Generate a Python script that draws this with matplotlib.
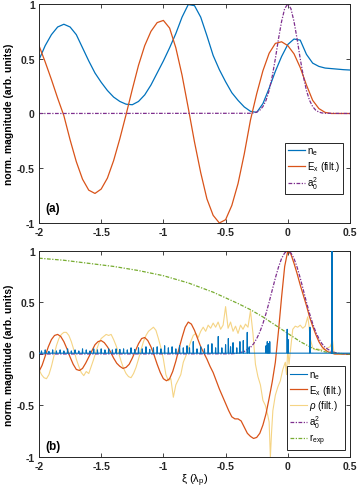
import numpy as np
import matplotlib
matplotlib.use("Agg")
import matplotlib.pyplot as plt

# MATLAB default colour order
BLUE = (0.0, 0.447, 0.741)
ORANGE = (0.85, 0.325, 0.098)
YELLOW = (0.929, 0.694, 0.125)
PURPLE = (0.494, 0.184, 0.556)
GREEN = (0.466, 0.674, 0.188)
AXIS_GREY = (0.15, 0.15, 0.15)
DASHDOT = (3, 1.2, 1, 1.2)

xi_ticks = [-2, -1.5, -1, -0.5, 0, 0.5]
xi_tick_labels = ['-2', '-1.5', '-1', '-0.5', '0', '0.5']
y_ticks = [-1, -0.5, 0, 0.5, 1]
y_tick_labels = ['-1', '-0.5', '0', '0.5', '1']

# ---- panel (a), sampled every 0.05 from xi = -2 to 0.5 ----
ne_a = [0.49, 0.62, 0.72, 0.79, 0.815, 0.79, 0.72, 0.60, 0.48, 0.37,
        0.285, 0.21, 0.15, 0.11, 0.085, 0.08, 0.11, 0.17, 0.26, 0.37,
        0.48, 0.60, 0.73, 0.88, 0.995, 0.985, 0.88, 0.71, 0.53, 0.40,
        0.29, 0.19, 0.12, 0.06, 0.02, 0.01, 0.09, 0.23, 0.385, 0.52,
        0.63, 0.68, 0.67, 0.54, 0.46, 0.43, 0.415, 0.41, 0.405, 0.40,
        0.397]
ex_a = [0.62, 0.47, 0.31, 0.14, -0.02, -0.24, -0.44, -0.60, -0.70, -0.73,
        -0.69, -0.59, -0.43, -0.23, -0.01, 0.22, 0.44, 0.62, 0.75, 0.83,
        0.85, 0.78, 0.60, 0.35, 0.05, -0.26, -0.54, -0.78, -0.93, -1.00,
        -0.97, -0.84, -0.64, -0.37, -0.06, 0.18, 0.39, 0.55, 0.64, 0.655,
        0.62, 0.545, 0.42, 0.26, 0.12, 0.045, 0.01, 0.0, 0.0, 0.0,
        0.0]
a0_a_xi = [-2.0, -0.3, -0.275, -0.25, -0.225, -0.2, -0.175, -0.15, -0.125,
           -0.1, -0.075, -0.05, -0.025, 0.0, 0.025, 0.05, 0.075, 0.1, 0.125,
           0.15, 0.175, 0.2, 0.225, 0.25, 0.275, 0.3, 0.5]
a0_a = [0.0, 0.002, 0.005, 0.013, 0.03, 0.063, 0.12, 0.21, 0.34,
        0.50, 0.68, 0.84, 0.958, 1.0, 0.958, 0.84, 0.68, 0.50, 0.34,
        0.21, 0.12, 0.063, 0.03, 0.013, 0.005, 0.002, 0.0]

# ---- panel (b) ----
# E_x (filt.) every 0.025 from -2 to 0.5
ex_b = [-0.17, -0.11, -0.02, 0.07, 0.14, 0.18, 0.19, 0.17, 0.12, 0.05,
        -0.03, -0.10, -0.15, -0.16, -0.14, -0.09, -0.03, 0.03, 0.09, 0.12,
        0.13, 0.11, 0.07, 0.02, -0.04, -0.09, -0.12, -0.14, -0.13, -0.10,
        -0.04, 0.03, 0.10, 0.15, 0.16, 0.13, 0.07, -0.01, -0.10, -0.18,
        -0.24, -0.26, -0.24, -0.17, -0.07, 0.05, 0.16, 0.26, 0.31, 0.29,
        0.23, 0.15, 0.07, 0.01, -0.05, -0.12, -0.18, -0.26, -0.34, -0.41,
        -0.48, -0.55, -0.61, -0.63, -0.63, -0.65, -0.71, -0.77, -0.80, -0.82,
        -0.81, -0.77, -0.69, -0.58, -0.43, -0.27, -0.08, 0.22, 0.55, 0.85,
        1.00, 0.97, 0.88, 0.78, 0.67, 0.57, 0.47, 0.36, 0.27, 0.19,
        0.12, 0.07, 0.04, 0.02, 0.01, 0.0, 0.0, 0.0, 0.0, 0.0,
        0.0]
rho_b_xi = [-2.00, -1.98, -1.96, -1.94, -1.92, -1.90, -1.88, -1.86, -1.84, -1.82,
            -1.80, -1.78, -1.76, -1.74, -1.72, -1.70, -1.68, -1.66, -1.64, -1.62,
            -1.60, -1.58, -1.56, -1.54, -1.52, -1.50, -1.48, -1.46, -1.44, -1.42,
            -1.40, -1.38, -1.36, -1.34, -1.32, -1.30, -1.28, -1.26, -1.24, -1.22,
            -1.20, -1.18, -1.16, -1.14, -1.12, -1.10, -1.08, -1.06, -1.04, -1.02,
            -1.00, -0.98, -0.96, -0.94, -0.92, -0.90, -0.88, -0.86, -0.84, -0.82,
            -0.80, -0.78, -0.76, -0.74, -0.72, -0.70, -0.68, -0.66, -0.64, -0.62,
            -0.60, -0.58, -0.56, -0.54, -0.52, -0.50, -0.48, -0.46, -0.44, -0.42,
            -0.40, -0.38, -0.36, -0.34, -0.32, -0.30, -0.28, -0.26, -0.24, -0.22,
            -0.20, -0.18, -0.16, -0.15, -0.14, -0.13, -0.12, -0.10, -0.08, -0.06,
            -0.04, -0.02, -0.01, 0.00, 0.01, 0.02, 0.04, 0.06, 0.08, 0.10,
            0.12, 0.14, 0.16, 0.17, 0.18, 0.20, 0.22, 0.24, 0.26, 0.28,
            0.30, 0.32, 0.34, 0.36, 0.37, 0.38, 0.50]
rho_b = [-0.15, -0.20, -0.23, -0.24, -0.20, -0.12, -0.02, 0.08, 0.15, 0.19,
         0.21, 0.21, 0.18, 0.12, 0.04, -0.05, -0.12, -0.18, -0.21, -0.17,
         -0.19, -0.12, -0.05, 0.03, 0.10, 0.15, 0.17, 0.19, 0.18, 0.19,
         0.14, 0.08, 0.01, -0.07, -0.14, -0.19, -0.22, -0.23, -0.19, -0.13,
         -0.05, 0.04, 0.12, 0.18, 0.22, 0.24, 0.26, 0.23, 0.15, 0.06,
         -0.05, -0.20, -0.26, -0.24, -0.42, -0.30, -0.25, -0.20, -0.08, -0.02,
         0.05, 0.12, 0.18, 0.20, 0.16, 0.22, 0.26, 0.22, 0.28, 0.25,
         0.30, 0.26, 0.31, 0.24, 0.28, 0.46, 0.25, 0.31, 0.22, 0.27,
         0.20, 0.28, 0.24, 0.29, 0.26, 0.42, 0.20, -0.10, -0.22, -0.30,
         -0.45, -0.50, -0.60, -0.66, -1.00, -0.75, -0.55, -0.40, -0.32, -0.26,
         -0.15, -0.08, -0.20, 0.05, -0.10, 0.02, 0.24, 0.27, 0.26, 0.28,
         0.25, 0.27, 0.36, 0.28, 0.15, 0.06, 0.04, 0.05, 0.04, 0.05,
         0.04, 0.06, 0.07, 0.13, 0.02, 0.0, 0.0]
a0_b_xi = [-2.0, -0.45, -0.4, -0.35, -0.3, -0.275, -0.25, -0.225, -0.2, -0.175,
           -0.15, -0.125, -0.1, -0.075, -0.05, -0.025, 0.0, 0.025, 0.05, 0.075,
           0.1, 0.125, 0.15, 0.175, 0.2, 0.225, 0.25, 0.275, 0.3, 0.35,
           0.4, 0.45, 0.5]
a0_b = [0.0, 0.002, 0.008, 0.024, 0.064, 0.099, 0.149, 0.213, 0.295, 0.393,
        0.503, 0.621, 0.737, 0.842, 0.927, 0.981, 1.0, 0.981, 0.927, 0.842,
        0.737, 0.621, 0.503, 0.393, 0.295, 0.213, 0.149, 0.099, 0.064, 0.024,
        0.008, 0.002, 0.0]
# r_exp every 0.1 from -2 to 0.5
rexp_b = [0.93, 0.92, 0.91, 0.895, 0.88, 0.865, 0.85, 0.83, 0.81, 0.785,
          0.76, 0.725, 0.69, 0.645, 0.60, 0.545, 0.49, 0.43, 0.36, 0.28,
          0.20, 0.12, 0.055, 0.02, 0.005, 0.0]
# n_e spikes: position and height
ne_spike_xi = [-1.98, -1.95, -1.92, -1.89, -1.86, -1.83, -1.80, -1.77, -1.74, -1.71,
               -1.68, -1.65, -1.62, -1.59, -1.56, -1.53, -1.50, -1.47, -1.44, -1.41,
               -1.38, -1.35, -1.32, -1.29, -1.26, -1.23, -1.20, -1.17, -1.14, -1.11,
               -1.08, -1.05, -1.02, -0.99, -0.96, -0.93, -0.90, -0.87, -0.84, -0.81,
               -0.79, -0.76, -0.73, -0.70, -0.67, -0.64, -0.61, -0.58, -0.559, -0.53,
               -0.50, -0.478, -0.46, -0.44, -0.41, -0.385, -0.358, -0.326, -0.31,
               -0.175, -0.165, -0.155, -0.145, -0.005, 0.003, 0.178, 0.355]
ne_spike_h = [0.03, 0.04, 0.025, 0.04, 0.03, 0.04, 0.03, 0.05, 0.03, 0.04,
              0.03, 0.05, 0.04, 0.03, 0.05, 0.04, 0.05, 0.04, 0.05, 0.04,
              0.05, 0.045, 0.05, 0.04, 0.06, 0.045, 0.06, 0.05, 0.07, 0.045,
              0.06, 0.07, 0.05, 0.08, 0.06, 0.07, 0.05, 0.08, 0.06, 0.08,
              0.06, 0.12, 0.05, 0.07, 0.05, 0.09, 0.10, 0.06, 0.17, 0.06,
              0.09, 0.15, 0.07, 0.11, 0.06, 0.12, 0.13, 0.21, 0.07,
              0.08, 0.12, 0.10, 0.12, 0.24, 0.14, 0.26, 1.2]


def spike_line(centres, heights, base=0.008, half=0.0025):
    """Turn a list of spikes into a polyline sitting on a flat baseline."""
    xs, ys = [-2.0], [base]
    for c, h in zip(centres, heights):
        w = 0.0006 if h > 0.9 else half
        xs += [c - w, c, c + w]
        ys += [base, h, base]
    xs.append(0.5)
    ys.append(base)
    return xs, ys


def style_axes(ax, tag, tag_y):
    ax.set_xlim(-2, 0.5)
    ax.set_ylim(-1, 1)
    ax.set_xticks(xi_ticks)
    ax.set_xticklabels(xi_tick_labels, fontweight='bold', fontsize=7.5)
    ax.set_yticks(y_ticks)
    ax.set_yticklabels(y_tick_labels, fontweight='bold', fontsize=7.5)
    ax.tick_params(direction='in', top=True, right=True, length=3,
                   width=0.6, colors=AXIS_GREY, pad=3)
    for sp in ax.spines.values():
        sp.set_color(AXIS_GREY)
        sp.set_linewidth(0.7)
    ax.set_ylabel('norm. magnitude (arb. units)', fontweight='bold',
                  fontsize=7.5, labelpad=2)
    ax.text(0.022, tag_y, tag, transform=ax.transAxes, fontweight='bold',
            fontsize=8.5, va='center', ha='left')


def legend(ax, handles, labels, anchor):
    leg = ax.legend(handles, labels, loc='lower right', bbox_to_anchor=anchor,
                    borderaxespad=0, fontsize=7, frameon=True, fancybox=False,
                    edgecolor=AXIS_GREY, framealpha=1, handlelength=1.7,
                    handletextpad=0.2, borderpad=0.3, labelspacing=0.15)
    leg.get_frame().set_linewidth(0.7)


def main():
    plt.rcParams['font.family'] = ['Liberation Sans', 'DejaVu Sans']
    plt.rcParams['mathtext.fontset'] = 'custom'
    plt.rcParams['mathtext.rm'] = 'Liberation Sans'
    plt.rcParams['mathtext.it'] = 'Liberation Sans:italic'
    plt.rcParams['mathtext.bf'] = 'Liberation Sans:bold'

    fig = plt.figure(figsize=(3.59, 4.89), dpi=100)
    ax_a = fig.add_axes([0.1086, 0.5419, 0.8663, 0.4479])
    ax_b = fig.add_axes([0.1086, 0.0634, 0.8663, 0.4213])

    # panel (a)
    xi_a = np.linspace(-2, 0.5, len(ne_a))
    l1, = ax_a.plot(xi_a, ne_a, color=BLUE, lw=0.9)
    l2, = ax_a.plot(xi_a, ex_a, color=ORANGE, lw=0.9)
    l3, = ax_a.plot(a0_a_xi, a0_a, color=PURPLE, lw=0.9, dashes=DASHDOT)
    style_axes(ax_a, '(a)', 0.068)
    legend(ax_a, [l1, l2, l3],
           ['n$_\\mathrm{e}$', 'E$_\\mathrm{x}$ (filt.)', 'a$_0^2$'],
           (0.977, 0.132))

    # panel (b)
    ne_xi, ne_val = spike_line(ne_spike_xi, ne_spike_h)
    xi_ex = np.linspace(-2, 0.5, len(ex_b))
    xi_r = np.linspace(-2, 0.5, len(rexp_b))
    m3, = ax_b.plot(rho_b_xi, rho_b, color=YELLOW, lw=0.8, alpha=0.55, zorder=1)
    m1, = ax_b.plot(ne_xi, ne_val, color=BLUE, lw=0.8, zorder=3)
    m2, = ax_b.plot(xi_ex, ex_b, color=ORANGE, lw=0.9, zorder=2)
    m4, = ax_b.plot(a0_b_xi, a0_b, color=PURPLE, lw=0.9, dashes=DASHDOT, zorder=2)
    m5, = ax_b.plot(xi_r, rexp_b, color=GREEN, lw=0.9, dashes=DASHDOT, zorder=2)
    style_axes(ax_b, '(b)', 0.055)
    ax_b.set_xlabel('\u03be (\u03bb$_\\mathrm{p}$)', fontsize=8)
    ax_b.xaxis.set_label_coords(0.5, -0.072)
    legend(ax_b, [m1, m2, m3, m4, m5],
           ['n$_\\mathrm{e}$', 'E$_\\mathrm{x}$ (filt.)', '$\\rho$ (filt.)',
            'a$_0^2$', 'r$_\\mathrm{exp}$'],
           (0.984, 0.034))

    fig.savefig('out.png', dpi=100)


if __name__ == "__main__":
    main()
